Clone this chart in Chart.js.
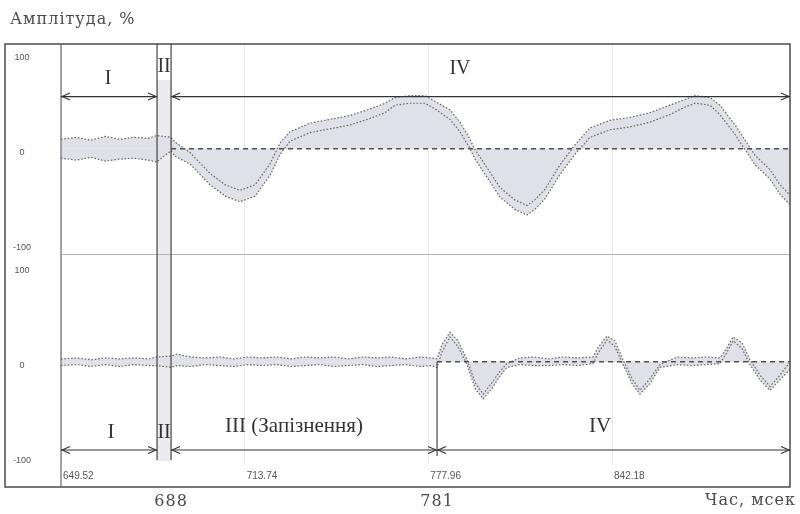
<!DOCTYPE html>
<html><head><meta charset="utf-8">
<script src="https://cdn.jsdelivr.net/npm/chart.js@4.4.1/dist/chart.umd.min.js"></script>
<style>html,body{margin:0;padding:0;background:#fff;}</style>
</head><body>
<canvas id="c" width="800" height="514"></canvas>
<script>
// ---- data ----
const xTicks = [649.52, 713.74, 777.96, 842.18];
const yTicks = [100, 0, -100];
const phaseBounds = [649.52, 683.1, 688, 781, 904.4];
const markTimes = [688, 781];

const topTime  = [649.5,655,660,665,670,675,680,683, 688,689.4,694.6,701.6,706.9,712.1,717.4,722.6,726.1,729.6,736.6,743.6,750.6,757.6,762.8,766.3,771.5,776.8,780.3,785.5,789,791.8,794.3,797.8,803,808.2,812.4,815.2,818.7,824,829.2,834.5,841.5,848.5,855.4,862.4,867.7,871.2,876.4,879.9,885.2,888.7,892.2,897.4,900.9,904.4];
const topUpper = [10,12,9,13,10,12,11,14, 12,7,-4,-26,-38,-44,-38,-16,6,18,27,31,35,42,48,54,56,56,50,41,28,14,-1,-17,-41,-54,-60,-54,-43,-17,4,22,30,33,38,46,52,56,54,46,25,9,-7,-22,-38,-49];
const topLower = [-10,-12,-9,-13,-11,-10,-12,-14, -2,-8,-16,-38,-50,-56,-50,-28,-6,8,17,21,25,32,38,46,48,48,42,31,18,4,-11,-27,-51,-64,-70,-64,-53,-27,-6,12,20,23,28,36,44,48,46,36,15,-1,-17,-32,-48,-59];

const botTime  = [649.5,655,660,665,670,675,680,683, 688,690,695,700,705,710,715,720,725,730,735,740,745,750,755,760,765,770,775,779,781, 782.7,785.5,788.3,791.5,794.3,797.1,800.2,803,805.4, 810,815,820,825,830,835.5, 837.3,840.4,843.2,846,849.2,851.9,855.4,858.9, 865,870,875,879.9, 882,884.5,887.6,890.4,893.9,897.4,900.9,904.4];
const botUpper = [3,4,2,4,3,4,3,5, 6,8,5,4,5,3,5,4,5,3,5,4,5,3,5,4,5,3,5,4,3, 18,31,22,2,-22,-34,-22,-10,-2, 4,5,3,5,4,5, 15,27,22,2,-18,-30,-18,-3, 5,4,5,4, 13,26,20,2,-14,-26,-14,0];
const botLower = [-4,-3,-5,-3,-5,-3,-4,-4, -6,-4,-5,-3,-4,-5,-3,-4,-3,-5,-4,-3,-5,-4,-3,-5,-4,-3,-5,-4,-6, 10,26,16,-3,-28,-39,-28,-15,-6, -3,-4,-4,-3,-4,-2, 9,23,16,-3,-23,-34,-23,-6, -3,-4,-3,-2, 8,22,14,-3,-19,-30,-19,-8];

// phase annotations: [label, from, to, labelTime]
const topPhases = [['I', 649.52, 683.1, 666], ['IV', 688, 904.4, 789]];
const botPhases = [['I', 649.52, 683.1, 667], ['III (Запізнення)', 688, 781, 731], ['IV', 781, 904.4, 838]];
const topArrowLevel = 55, topLabelLevel = 74;
const botArrowLevel = -92.6, botLabelLevel = -68;

const toPts = (t, v) => t.map((x, i) => ({x, y: v[i]}));
const sig = (t, v, axis) => ({
  data: toPts(t, v), yAxisID: axis, borderColor: '#666', borderWidth: 1.2,
  borderDash: [1.6, 1.8], pointRadius: 0, fill: 'origin', backgroundColor: '#e0e0e9', tension: 0
});
const zeroLine = (from, to, axis) => ({
  data: [{x: from, y: 0}, {x: to, y: 0}], yAxisID: axis, borderColor: '#505050',
  borderWidth: 1.3, borderDash: [5, 4], pointRadius: 0, fill: false
});

function arrowHead(ctx, x, y, dir) {
  ctx.beginPath();
  ctx.moveTo(x - dir * 8, y - 3.5); ctx.lineTo(x, y); ctx.lineTo(x - dir * 8, y + 3.5);
  ctx.stroke();
}
function dblArrow(ctx, xa, xb, y) {
  ctx.beginPath(); ctx.moveTo(xa, y); ctx.lineTo(xb, y); ctx.stroke();
  arrowHead(ctx, xa + 1, y, -1); arrowHead(ctx, xb - 1, y, 1);
}

const annot = {
  id: 'annot',
  beforeDraw(chart) {
    const {ctx, chartArea: ca, scales: {x}} = chart;
    const x1 = x.getPixelForValue(phaseBounds[1]), x2 = x.getPixelForValue(phaseBounds[2]);
    ctx.save(); ctx.fillStyle = '#ececf0';
    ctx.fillRect(x1, ca.top + 36, x2 - x1, ca.bottom - ca.top - 40);
    ctx.restore();
  },
  afterDraw(chart) {
    const {ctx, chartArea: ca, scales: {x, yT, yB}} = chart;
    ctx.save();
    const fl = yT.left, fb = x.bottom;
    // panel separator
    ctx.strokeStyle = '#b4b4b4'; ctx.lineWidth = 1;
    ctx.beginPath(); ctx.moveTo(ca.left, yT.bottom); ctx.lineTo(ca.right, yT.bottom); ctx.stroke();
    // frame
    ctx.strokeStyle = '#555'; ctx.lineWidth = 1.6;
    ctx.strokeRect(fl, ca.top, ca.right - fl, fb - ca.top);
    ctx.lineWidth = 1.2; ctx.strokeStyle = '#6a6a6a';
    ctx.beginPath(); ctx.moveTo(ca.left, ca.top); ctx.lineTo(ca.left, fb); ctx.stroke();
    // phase boundary lines
    ctx.strokeStyle = '#444'; ctx.lineWidth = 1.2;
    const ya = yB.getPixelForValue(botArrowLevel);
    [phaseBounds[1], phaseBounds[2]].forEach(t => {
      const px = x.getPixelForValue(t);
      ctx.beginPath(); ctx.moveTo(px, ca.top); ctx.lineTo(px, ya + 10); ctx.stroke();
    });
    const p781 = x.getPixelForValue(phaseBounds[3]);
    ctx.beginPath(); ctx.moveTo(p781, yB.getPixelForValue(0)); ctx.lineTo(p781, ya + 6); ctx.stroke();
    // arrows + labels
    ctx.strokeStyle = '#333'; ctx.lineWidth = 1.1; ctx.fillStyle = '#333';
    ctx.textAlign = 'center'; ctx.textBaseline = 'middle';
    const yTa = yT.getPixelForValue(topArrowLevel), yTl = yT.getPixelForValue(topLabelLevel);
    topPhases.forEach(([lab, a, b, lt]) => {
      dblArrow(ctx, x.getPixelForValue(a), x.getPixelForValue(b), yTa);
      ctx.font = '20px "Liberation Serif"';
      ctx.fillText(lab, x.getPixelForValue(lt), lab === 'I' ? yTl : yTl - 10);
    });
    const yBl = yB.getPixelForValue(botLabelLevel);
    botPhases.forEach(([lab, a, b, lt]) => {
      dblArrow(ctx, x.getPixelForValue(a), x.getPixelForValue(b), ya);
      ctx.font = '21px "Liberation Serif"';
      ctx.fillText(lab, x.getPixelForValue(lt), lab === 'I' ? yBl + 6 : yBl);
    });
    const midII = (phaseBounds[1] + phaseBounds[2]) / 2;
    ctx.font = '20px "Liberation Serif"';
    ctx.fillText('II', x.getPixelForValue(midII), yT.getPixelForValue(86));
    ctx.fillText('II', x.getPixelForValue(midII), yBl + 6);
    // outer texts
    ctx.fillStyle = '#4a4a4a';
    ctx.letterSpacing = '1px';
    ctx.font = '16px "DejaVu Serif"'; ctx.textAlign = 'left';
    ctx.fillText('Амплітуда, %', fl + 5, ca.top - 24);
    ctx.textAlign = 'center'; ctx.font = '16px "DejaVu Serif"';
    markTimes.forEach(t => ctx.fillText(String(t), x.getPixelForValue(t), fb + 15));
    ctx.textAlign = 'right'; ctx.font = '16px "DejaVu Serif"';
    ctx.fillText('Час, мсек', ca.right + 6, fb + 14);
    ctx.restore();
  }
};

const yAxis = (min, max) => ({
  type: 'linear', position: 'left', stack: 'v', stackWeight: 1, min, max,
  afterBuildTicks: s => { s.ticks = yTicks.map(v => ({value: v})); },
  afterFit: s => { s.width = 56; },
  grid: {display: false, drawTicks: false}, border: {display: false},
  ticks: {crossAlign: 'center', padding: 30, labelOffset: 4, color: '#555',
          font: {family: 'Liberation Sans', size: 9}, autoSkip: false}
});

new Chart(document.getElementById('c'), {
  type: 'line',
  data: {datasets: [
    zeroLine(688, 904.4, 'yT'), zeroLine(781, 904.4, 'yB'),
    sig(topTime, topUpper, 'yT'), sig(topTime, topLower, 'yT'),
    sig(botTime, botUpper, 'yB'), sig(botTime, botLower, 'yB')
  ]},
  options: {
    responsive: false, animation: false, devicePixelRatio: 1,
    layout: {padding: {top: 44, left: 5, right: 10, bottom: 27}},
    plugins: {legend: {display: false}, tooltip: {enabled: false}, filler: {drawTime: 'beforeDatasetsDraw'}},
    scales: {
      x: {
        type: 'linear', min: 649.52, max: 904.4,
        afterBuildTicks: s => { s.ticks = xTicks.map(v => ({value: v})); },
        afterFit: s => { s.height = 22; },
        grid: {color: '#e8e8e8', drawTicks: false}, border: {display: false},
        ticks: {align: 'start', padding: 5, autoSkip: false, maxRotation: 0, color: '#555',
                font: {family: 'Liberation Sans', size: 10}, callback: v => '\u2009' + v.toFixed(2)}
      },
      yB: yAxis(-108.4, 112.6),
      yT: yAxis(-111.6, 110.5)
    }
  },
  plugins: [annot]
});
</script>
</body></html>
